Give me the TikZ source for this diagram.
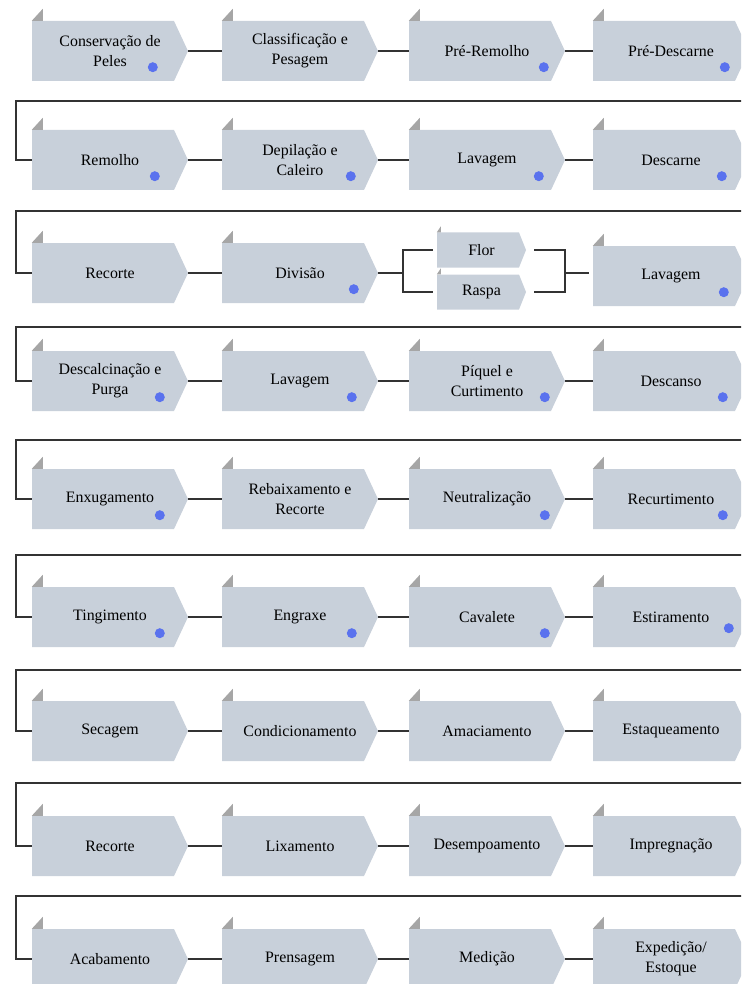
\documentclass[tikz,border=0pt]{standalone}
\usepackage{fontspec}
\setmainfont{Liberation Serif}
\usepackage{xcolor}
\usepackage{tikz}

\definecolor{boxgray}{HTML}{C8D0DA}
\definecolor{flaggray}{HTML}{A6A6A6}
\definecolor{dotblue}{HTML}{5A72EE}
\definecolor{linegray}{HTML}{333333}

\begin{document}
\begin{tikzpicture}[x=1pt,y=-1pt,
	chevron/.style={path picture={\fill[boxgray] (path picture bounding box.north west) -- ([xshift=-#1]path picture bounding box.north east) -- (path picture bounding box.east) -- ([xshift=-#1]path picture bounding box.south east) -- (path picture bounding box.south west) -- cycle;}},
	stepbox/.style={chevron=14pt, minimum width=156pt, minimum height=60pt, inner sep=0pt, align=center, font=\fontsize{15.9}{20}\selectfont},
	cutbox/.style={chevron=7pt, minimum width=89pt, minimum height=35pt, inner sep=0pt, font=\fontsize{15.9}{20}\selectfont},
	link/.style={draw=linegray, line width=1.1pt},
	cornerflag/.style={fill=flaggray},
	bluedot/.style={fill=dotblue}]
	\clip (0,0) rectangle (741,984);
	% linha 1
	\node[stepbox] (s11) at (110,51) {Conservação de\\Peles};
	\node[stepbox] (s12) at (300,51) {Classificação e\\Pesagem};
	\node[stepbox] (s13) at (487,51) {Pré-Remolho};
	\node[stepbox] (s14) at (671,51) {Pré-Descarne};
	% linha 2
	\node[stepbox] (s21) at (110,160) {Remolho};
	\node[stepbox] (s22) at (300,160) {Depilação e\\Caleiro};
	\node[stepbox] (s23) at (487,160) {Lavagem};
	\node[stepbox] (s24) at (671,160) {Descarne};
	% linha 3
	\node[stepbox] (s31) at (110,273) {Recorte};
	\node[stepbox] (s32) at (300,273) {Divisão};
	\node[cutbox] (flor) at (481.5,250) {Flor};
	\node[cutbox] (raspa) at (481.5,292) {Raspa};
	\node[stepbox] (s34) at (671,276) {Lavagem};
	% linha 4
	\node[stepbox] (s41) at (110,381) {Descalcinação e\\Purga};
	\node[stepbox] (s42) at (300,381) {Lavagem};
	\node[stepbox] (s43) at (487,381) {Píquel e\\Curtimento};
	\node[stepbox] (s44) at (671,381) {Descanso};
	% linha 5
	\node[stepbox] (s51) at (110,499) {Enxugamento};
	\node[stepbox] (s52) at (300,499) {Rebaixamento e\\Recorte};
	\node[stepbox] (s53) at (487,499) {Neutralização};
	\node[stepbox] (s54) at (671,499) {Recurtimento};
	% linha 6
	\node[stepbox] (s61) at (110,617) {Tingimento};
	\node[stepbox] (s62) at (300,617) {Engraxe};
	\node[stepbox] (s63) at (487,617) {Cavalete};
	\node[stepbox] (s64) at (671,617) {Estiramento};
	% linha 7
	\node[stepbox] (s71) at (110,731) {Secagem};
	\node[stepbox] (s72) at (300,731) {Condicionamento};
	\node[stepbox] (s73) at (487,731) {Amaciamento};
	\node[stepbox] (s74) at (671,731) {Estaqueamento};
	% linha 8
	\node[stepbox] (s81) at (110,846) {Recorte};
	\node[stepbox] (s82) at (300,846) {Lixamento};
	\node[stepbox] (s83) at (487,846) {Desempoamento};
	\node[stepbox] (s84) at (671,846) {Impregnação};
	% linha 9
	\node[stepbox] (s91) at (110,959) {Acabamento};
	\node[stepbox] (s92) at (300,959) {Prensagem};
	\node[stepbox] (s93) at (487,959) {Medição};
	\node[stepbox] (s94) at (671,959) {Expedição/\\Estoque};

	\foreach \n in {s11,s12,s13,s14,s21,s22,s23,s24,s31,s32,s34,s41,s42,s43,s44,s51,s52,s53,s54,s61,s62,s63,s64,s71,s72,s73,s74,s81,s82,s83,s84,s91,s92,s93,s94}
		\fill[cornerflag] (\n.north west) -- ++(11,-12) -- ++(0,12) -- cycle;
	\fill[cornerflag] (flor.north west) -- ++(4,-6) -- ++(0,6) -- cycle;
	\fill[cornerflag] (raspa.north west) -- ++(4,-6) -- ++(0,6) -- cycle;

	\foreach \n/\dx/\dy in {s11/121/14, s13/135/14, s14/132/14, s21/123/14, s22/129/14, s23/130/14, s24/129/14, s32/132/14, s34/131/14, s41/128/14, s42/130/14, s43/136/14, s44/130/14, s51/128/14, s53/136/14, s54/130/14, s61/128/14, s62/130/14, s63/136/14, s64/136/19}
		\fill[bluedot] (\n.south west) ++(\dx,-\dy) circle (5);

	% ligacoes dentro das linhas
	\foreach \r in {1,2,4,5,6,7,8,9} {
		\draw[link] (s\r1.east) -- (s\r2.west);
		\draw[link] (s\r2.east) -- (s\r3.west);
		\draw[link] (s\r3.east) -- (s\r4.west);
	}
	\draw[link] (s31.east) -- (s32.west);
	\coordinate (split) at (403,273);
	\coordinate (merge) at (565,273);
	\draw[link] (s32.east) -- (split);
	\draw[link] ([xshift=-4]flor.west) -| (split) |- ([xshift=-4]raspa.west);
	\draw[link] ([xshift=8]flor.east) -| (merge) |- ([xshift=8]raspa.east);
	\draw[link] (merge) -- ([xshift=-4]s34.west |- merge);

	% retornos
	\foreach \r/\n/\y in {1/2/101, 2/3/211, 3/4/327, 4/5/440, 5/6/555, 6/7/670, 7/8/783, 8/9/896} {
		\coordinate (back\r) at (16,\y);
		\draw[link] (s\r4.east) -- ++(12,0) |- (back\r) |- (s\n1.west);
	}
\end{tikzpicture}
\end{document}
